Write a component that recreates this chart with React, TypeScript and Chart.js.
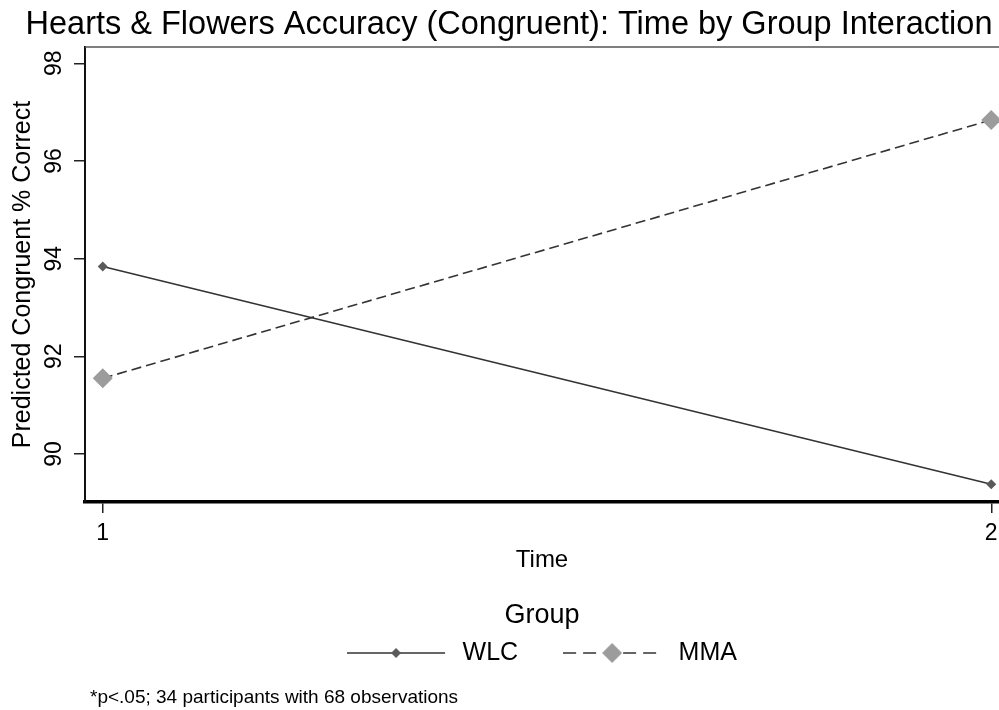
import React, { useEffect, useRef } from "react";
import { Chart, registerables } from "chart.js";

Chart.register(...registerables);

const FONT = '"Liberation Sans", Arial, Helvetica, sans-serif';

const chartTitle = "Hearts & Flowers Accuracy (Congruent): Time by Group Interaction";
const yAxisTitle = "Predicted Congruent % Correct";
const xAxisTitle = "Time";
const legendTitle = "Group";
const noteText = "*p<.05; 34 participants with 68 observations";

const seriesNames = ["WLC", "MMA"];
const timePoints = [1, 2];
const wlcValues = [93.84, 89.38];
const mmaValues = [91.55, 96.84];
const yTickValues = [90, 92, 94, 96, 98];
const xTickValues = [1, 2];

function makeLegendIcon(dashed: boolean, markerColor: string, markerRadius: number, lineColor: string) {
  const c = document.createElement("canvas");
  c.width = 103;
  c.height = 24;
  const g = c.getContext("2d")!;
  g.strokeStyle = lineColor;
  g.lineWidth = 1.6;
  if (dashed) g.setLineDash([13, 7]);
  g.beginPath();
  g.moveTo(0, 12);
  g.lineTo(98, 12);
  g.stroke();
  g.setLineDash([]);
  const cx = 49;
  g.fillStyle = markerColor;
  g.beginPath();
  g.moveTo(cx - markerRadius, 12);
  g.lineTo(cx, 12 - markerRadius);
  g.lineTo(cx + markerRadius, 12);
  g.lineTo(cx, 12 + markerRadius);
  g.closePath();
  g.fill();
  return c;
}

const overlayPlugin = {
  id: "overlayPlugin",
  afterDraw(chart: any) {
    const { ctx, chartArea, scales } = chart;
    const ys = scales.y;
    ctx.save();
    ctx.strokeStyle = "#555";
    ctx.lineWidth = 1.5;
    ctx.beginPath();
    ctx.moveTo(chartArea.left, chartArea.top);
    ctx.lineTo(chartArea.right, chartArea.top);
    ctx.stroke();

    ctx.fillStyle = "#000";
    ctx.font = `23px ${FONT}`;
    ctx.textAlign = "center";
    ctx.textBaseline = "middle";
    ys.ticks.forEach((t: any) => {
      const py = ys.getPixelForValue(t.value);
      ctx.save();
      ctx.translate(chartArea.left - 30, py);
      ctx.rotate(-Math.PI / 2);
      ctx.fillText(String(t.value), 0, 0);
      ctx.restore();
    });

    ctx.textAlign = "left";
    ctx.font = `19px ${FONT}`;
    ctx.fillText(noteText, chartArea.left + 5, chart.height - 12);
    ctx.restore();
  },
};

export default function App() {
  const ref = useRef<HTMLCanvasElement | null>(null);

  useEffect(() => {
    document.body.style.margin = "0";
    const canvas = ref.current!;
    const wlcIcon = makeLegendIcon(false, "#5a5a5a", 5, "#333");
    const mmaIcon = makeLegendIcon(true, "#9c9c9c", 10, "#333");
    const icons = [wlcIcon, mmaIcon];

    const chart = new Chart(canvas, {
      type: "line",
      data: {
        datasets: [
          {
            label: seriesNames[0],
            data: timePoints.map((t, i) => ({ x: t, y: wlcValues[i] })),
            borderColor: "#333",
            borderWidth: 1.6,
            pointStyle: "rectRot",
            pointRadius: 5,
            pointBackgroundColor: "#5a5a5a",
            pointBorderColor: "#5a5a5a",
            pointBorderWidth: 0,
            fill: false,
          },
          {
            label: seriesNames[1],
            data: timePoints.map((t, i) => ({ x: t, y: mmaValues[i] })),
            borderColor: "#333",
            borderWidth: 1.6,
            borderDash: [10, 5],
            pointStyle: "rectRot",
            pointRadius: 10,
            pointBackgroundColor: "#9c9c9c",
            pointBorderColor: "#9c9c9c",
            pointBorderWidth: 0,
            fill: false,
          },
        ],
      },
      options: {
        animation: false,
        responsive: false,
        devicePixelRatio: 1,
        clip: false as any,
        layout: { autoPadding: false, padding: { left: 19, right: 0, top: 0, bottom: 34.5 } },
        font: { family: FONT },
        scales: {
          x: {
            type: "linear",
            min: 0.98,
            max: 2.0087,
            afterBuildTicks: (s: any) => {
              s.ticks = xTickValues.map((v) => ({ value: v }));
            },
            afterFit: (s: any) => {
              s.height = 74;
              s.paddingLeft = 0;
              s.paddingRight = 0;
            },
            grid: {
              display: true,
              drawOnChartArea: false,
              drawTicks: true,
              tickLength: 11,
              color: "#222",
              lineWidth: 1.5,
            },
            border: { display: true, color: "#000", width: 3.5 },
            ticks: {
              color: "#000",
              font: { family: FONT, size: 23 },
              padding: 7,
              maxRotation: 0,
              minRotation: 0,
              callback: (v: any) => String(v),
            },
            title: {
              display: true,
              text: xAxisTitle,
              color: "#000",
              font: { family: FONT, size: 24 },
              padding: { top: 0, bottom: 1 },
            },
          },
          y: {
            type: "linear",
            min: 89.017,
            max: 98.334,
            afterBuildTicks: (s: any) => {
              s.ticks = yTickValues.map((v) => ({ value: v }));
            },
            afterFit: (s: any) => {
              s.width = 66;
              s.paddingTop = 0;
              s.paddingBottom = 0;
            },
            grid: {
              display: true,
              drawOnChartArea: false,
              drawTicks: true,
              tickLength: 11,
              color: "#222",
              lineWidth: 1.5,
            },
            border: { display: true, color: "#111", width: 2 },
            ticks: { display: false },
            title: {
              display: true,
              text: yAxisTitle,
              color: "#000",
              font: { family: FONT, size: 25 },
              padding: { top: -10.7, bottom: 0 },
            },
          },
        },
        plugins: {
          title: {
            display: true,
            text: chartTitle,
            color: "#000",
            font: { family: FONT, size: 32.5, weight: "normal" },
            padding: { top: 5.5, bottom: 2.5 },
          },
          legend: {
            display: true,
            position: "bottom",
            fullSize: false,
            align: "center",
            title: {
              display: true,
              text: legendTitle,
              color: "#000",
              font: { family: FONT, size: 27, weight: "normal" },
              padding: { top: 26, bottom: -38.9 },
            },
            labels: {
              usePointStyle: true,
              pointStyleWidth: 103,
              padding: 45,
              color: "#000",
              font: { family: FONT, size: 25 },
              generateLabels: (ch: any) => {
                const items = Chart.defaults.plugins.legend.labels.generateLabels(ch);
                return items.map((it: any, i: number) => ({ ...it, pointStyle: icons[i], lineWidth: 0 }));
              },
            },
          },
          tooltip: { enabled: false },
        },
      },
      plugins: [overlayPlugin],
    });
    return () => chart.destroy();
  }, []);

  return (
    <div style={{ width: 999, height: 710, background: "#fff" }}>
      <canvas ref={ref} width={999} height={710} style={{ display: "block" }} />
    </div>
  );
}
